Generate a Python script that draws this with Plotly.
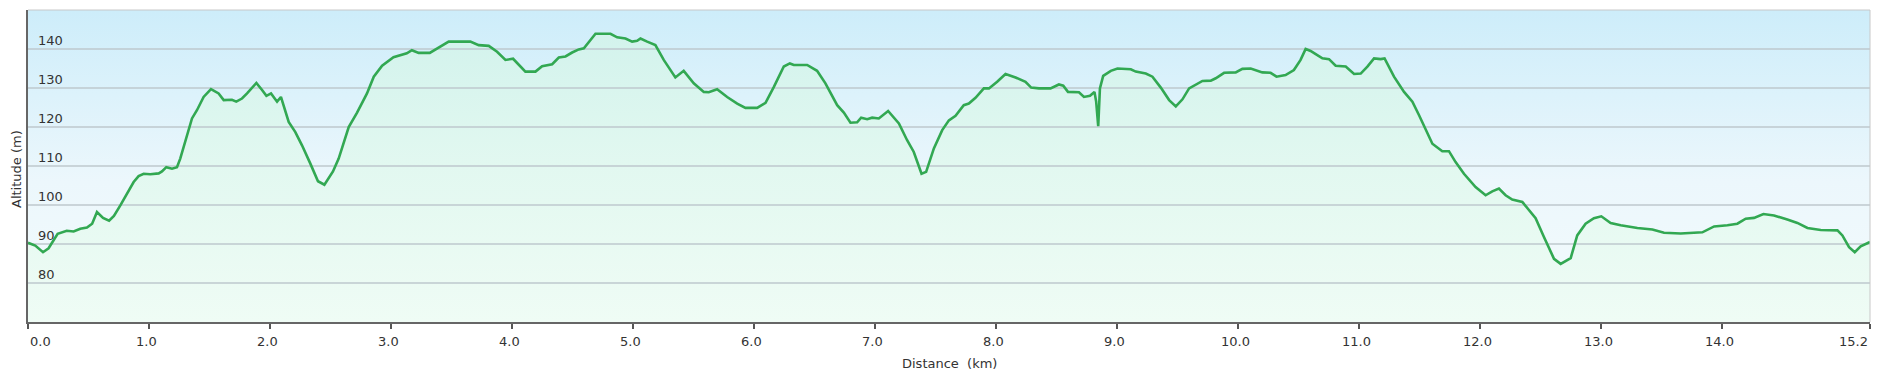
import plotly.graph_objects as go

# ---- data ----
distance_km = [
    0.0, 0.06, 0.124, 0.17, 0.245, 0.28, 0.32, 0.377, 0.432, 0.487, 0.53, 0.57, 0.62, 0.67, 0.71,
    0.763, 0.818, 0.873, 0.914, 0.956, 1.01, 1.08, 1.107, 1.143, 1.19, 1.231, 1.258, 1.3, 1.355,
    1.396, 1.451, 1.512, 1.575, 1.617, 1.685, 1.721, 1.768, 1.81, 1.851, 1.887, 1.934, 1.97,
    2.008, 2.058, 2.09, 2.154, 2.209, 2.264, 2.333, 2.396, 2.449, 2.52, 2.567, 2.65, 2.719,
    2.801, 2.857, 2.926, 3.02, 3.13, 3.172, 3.228, 3.32, 3.394, 3.476, 3.655, 3.724, 3.807,
    3.876, 3.945, 4.008, 4.11, 4.193, 4.248, 4.331, 4.386, 4.441, 4.496, 4.551, 4.593, 4.634,
    4.689, 4.813, 4.868, 4.937, 4.992, 5.033, 5.061, 5.116, 5.184, 5.253, 5.349, 5.418, 5.501,
    5.584, 5.625, 5.694, 5.777, 5.86, 5.928, 6.025, 6.094, 6.163, 6.245, 6.295, 6.328, 6.438,
    6.52, 6.589, 6.686, 6.741, 6.796, 6.851, 6.884, 6.934, 6.975, 7.03, 7.107, 7.196, 7.264,
    7.319, 7.383, 7.421, 7.485, 7.554, 7.609, 7.664, 7.732, 7.774, 7.829, 7.898, 7.94, 8.008,
    8.077, 8.16, 8.242, 8.289, 8.353, 8.449, 8.518, 8.554, 8.593, 8.684, 8.725, 8.775, 8.812,
    8.826, 8.843, 8.857, 8.884, 8.947, 9.002, 9.112, 9.153, 9.236, 9.291, 9.36, 9.429, 9.484,
    9.539, 9.594, 9.649, 9.704, 9.773, 9.814, 9.883, 9.979, 10.034, 10.103, 10.199, 10.267,
    10.316, 10.391, 10.46, 10.515, 10.557, 10.598, 10.64, 10.695, 10.75, 10.805, 10.888,
    10.957, 11.012, 11.067, 11.122, 11.177, 11.209, 11.287, 11.37, 11.439, 11.494, 11.549,
    11.604, 11.686, 11.741, 11.796, 11.865, 11.961, 12.044, 12.099, 12.154, 12.209, 12.264,
    12.347, 12.402, 12.457, 12.526, 12.609, 12.664, 12.747, 12.801, 12.87, 12.939, 13.0,
    13.077, 13.16, 13.298, 13.422, 13.518, 13.656, 13.835, 13.932, 14.042, 14.124, 14.193,
    14.262, 14.339, 14.427, 14.537, 14.62, 14.703, 14.813, 14.951, 14.992, 15.047, 15.094,
    15.143, 15.22,
]
altitude_m = [
    90.3, 89.6, 87.9, 88.9, 92.6, 92.9, 93.4, 93.2, 93.9, 94.2, 95.2, 98.2, 96.7, 96.0, 97.2,
    99.9, 102.9, 105.9, 107.4, 108.0, 107.9, 108.1, 108.6, 109.7, 109.3, 109.7, 111.9, 116.2,
    122.2, 124.3, 127.7, 129.7, 128.6, 126.9, 127.0, 126.5, 127.3, 128.6, 130.1, 131.3, 129.5,
    128.0, 128.6, 126.5, 127.7, 121.3, 118.7, 115.3, 110.6, 106.1, 105.2, 108.6, 111.9, 120.0,
    123.7, 128.6, 132.9, 135.7, 137.9, 138.9, 139.7, 139.0, 139.0, 140.4, 141.9, 141.9, 141.0,
    140.8, 139.3, 137.2, 137.5, 134.2, 134.2, 135.6, 136.1, 137.8, 138.1, 139.1, 139.9, 140.2,
    141.9, 143.9, 143.9, 143.0, 142.7, 141.9, 142.1, 142.7, 141.9, 141.0, 137.2, 132.7, 134.4,
    131.2, 129.0, 128.9, 129.7, 127.7, 126.0, 124.9, 124.9, 126.2, 130.3, 135.5, 136.3, 135.9,
    135.9, 134.4, 131.2, 125.6, 123.7, 121.1, 121.2, 122.4, 122.0, 122.4, 122.2, 124.1, 120.9,
    116.6, 113.6, 108.0, 108.5, 114.5, 119.2, 121.7, 122.9, 125.6, 126.0, 127.5, 129.9, 129.9,
    131.6, 133.6, 132.7, 131.6, 130.1, 129.9, 129.9, 130.9, 130.6, 129.0, 128.9, 127.7, 128.0,
    129.0, 126.5, 120.2, 129.9, 133.1, 134.4, 135.0, 134.8, 134.2, 133.7, 132.9, 130.1, 126.9,
    125.3, 127.1, 129.9, 130.9, 131.8, 131.9, 132.5, 133.9, 134.0, 134.9, 135.0, 134.0, 133.9,
    132.9, 133.3, 134.6, 137.2, 140.0, 139.5, 138.7, 137.6, 137.4, 135.7, 135.5, 133.6, 133.7,
    135.5, 137.6, 137.4, 137.6, 132.9, 129.0, 126.5, 123.0, 119.2, 115.7, 113.8, 113.8, 111.0,
    108.0, 104.6, 102.5, 103.5, 104.2, 102.5, 101.4, 100.8, 98.6, 96.6, 91.8, 86.2, 84.9, 86.4,
    92.2, 95.2, 96.6, 97.1, 95.4, 94.8, 94.1, 93.7, 92.9, 92.7, 93.0, 94.5, 94.8, 95.2, 96.5,
    96.7, 97.7, 97.3, 96.3, 95.4, 94.1, 93.6, 93.5, 92.2, 89.2, 87.9, 89.4, 90.5,
]

x_tick_vals = [0, 1, 2, 3, 4, 5, 6, 7, 8, 9, 10, 11, 12, 13, 14, 15.22]
x_tick_text = ["0.0", "1.0", "2.0", "3.0", "4.0", "5.0", "6.0", "7.0", "8.0", "9.0",
               "10.0", "11.0", "12.0", "13.0", "14.0", "15.2"]
y_tick_vals = [80, 90, 100, 110, 120, 130, 140]
y_tick_text = ["80", "90", "100", "110", "120", "130", "140"]

x_range = [0, 15.22]
y_range = [70, 150]

FONT = "DejaVu Sans"
TXT = "#333333"
GRID = "rgb(190,201,206)"

fig = go.Figure()

# background gradient of the plot area (blue at top -> near white at bottom)
fig.add_trace(go.Scatter(
    x=[x_range[0], x_range[1], x_range[1], x_range[0], x_range[0]],
    y=[y_range[0], y_range[0], y_range[1], y_range[1], y_range[0]],
    mode="none", fill="toself", hoverinfo="skip", showlegend=False,
    fillgradient=dict(type="vertical", start=y_range[0], stop=y_range[1],
                      colorscale=[[0, "rgb(243,251,252)"], [0.45, "rgb(236,247,252)"],
                                  [1, "rgb(205,237,250)"]]),
))

# area under the elevation profile
fig.add_trace(go.Scatter(
    x=distance_km, y=altitude_m, mode="none",
    fill="tozeroy", hoverinfo="skip",
    fillgradient=dict(type="vertical", start=y_range[0], stop=y_range[1],
                      colorscale=[[0, "rgb(239,252,245)"], [0.5, "rgb(226,248,240)"],
                                  [1, "rgb(208,242,236)"]]),
    showlegend=False,
))

# horizontal gridlines (drawn over the filled areas)
for v in y_tick_vals:
    fig.add_trace(go.Scatter(
        x=x_range, y=[v, v], mode="lines", hoverinfo="skip", showlegend=False,
        line=dict(color=GRID, width=1.6),
    ))

# elevation profile line
fig.add_trace(go.Scatter(
    x=distance_km, y=altitude_m, mode="lines",
    line=dict(color="rgb(50,168,82)", width=2.6),
    showlegend=False,
))

annotations = []
# y tick labels: inside the plot, just above their gridline
for v, t in zip(y_tick_vals, y_tick_text):
    annotations.append(dict(
        x=0, xref="paper", y=v, yref="y", text=t, showarrow=False,
        xanchor="left", yanchor="middle", xshift=8, yshift=9,
        font=dict(family=FONT, size=13, color=TXT),
    ))
# x tick labels
n_x = len(x_tick_vals)
for i, (v, t) in enumerate(zip(x_tick_vals, x_tick_text)):
    if i == 0:
        anchor, shift = "left", 0
    elif i == n_x - 1:
        anchor, shift = "right", 0
    else:
        anchor, shift = "center", -3
    annotations.append(dict(
        x=v, xref="x", y=0, yref="paper", text=t, showarrow=False,
        xanchor=anchor, yanchor="middle", xshift=shift, yshift=-19,
        font=dict(family=FONT, size=13, color=TXT),
    ))
annotations.append(dict(
    x=0.5, xref="paper", y=0, yref="paper", text="Distance  (km)", showarrow=False,
    xanchor="center", yanchor="middle", yshift=-41,
    font=dict(family=FONT, size=13, color=TXT),
))
annotations.append(dict(
    x=0, xref="paper", y=0.5, yref="paper", text="Altitude (m)", showarrow=False,
    textangle=-90, xanchor="center", yanchor="middle", xshift=-12, yshift=-3,
    font=dict(family=FONT, size=13, color=TXT),
))

# the page body adds an 8px offset, so the figure is sized/margined to compensate
fig.update_layout(
    width=1874, height=371,
    margin=dict(l=20, r=12, t=2, b=57),
    paper_bgcolor="white", plot_bgcolor="rgb(235,247,250)",
    font=dict(family=FONT, size=13, color=TXT),
    showlegend=False,
    xaxis=dict(
        range=x_range, tickvals=x_tick_vals,
        showgrid=False, zeroline=False, automargin=False,
        showline=True, linecolor="#666666", linewidth=2,
        ticks="outside", ticklen=5, tickwidth=1.5, tickcolor="#555555",
        showticklabels=False,
    ),
    yaxis=dict(
        range=y_range, tickvals=y_tick_vals,
        showgrid=False, zeroline=False, automargin=False,
        showline=True, linecolor="#666666", linewidth=2,
        ticks="", showticklabels=False,
    ),
    annotations=annotations,
    shapes=[
        dict(type="line", xref="paper", yref="paper", x0=0, x1=1, y0=1, y1=1,
             line=dict(color="#c8c8c8", width=1), layer="above"),
        dict(type="line", xref="paper", yref="paper", x0=1, x1=1, y0=0, y1=1,
             line=dict(color="#c8c8c8", width=1), layer="above"),
        dict(type="line", xref="paper", yref="paper", x0=1.0033, x1=1.0033, y0=-0.2, y1=1.01,
             line=dict(color="#dddddd", width=1), layer="above"),
    ],
)

fig.write_html("out.html")
